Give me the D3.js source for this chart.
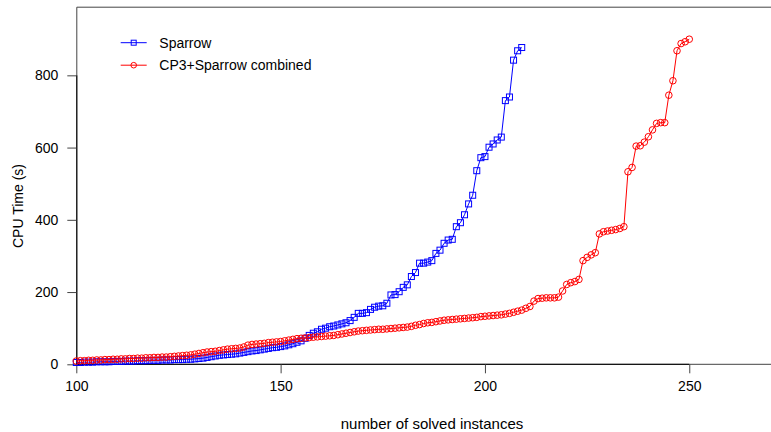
<!DOCTYPE html>
<html>
<head>
<meta charset="utf-8">
<script src="https://cdn.jsdelivr.net/npm/d3@7"></script>
<style>
  body { margin: 0; background: #fff; }
  text { font-family: "Liberation Sans", Arial, sans-serif; font-size: 14px; fill: #000; }
</style>
</head>
<body>
<div class="chart-container"></div>
<script>
// instances solved (x) for each series start at 100
const sparrowStart = 100
const combinedStart = 100

// CPU time (s) per solved instance
const sparrowTimes = [
  5, 5, 6, 6, 6, 7, 7, 7, 7, 8,
  8, 8, 9, 9, 9, 10, 10, 10, 11, 11,
  11, 12, 12, 12, 13, 13, 13, 14, 14, 15,
  16, 17, 19, 21, 23, 25, 26, 27, 28, 29,
  31, 33, 35, 37, 38, 40, 42, 44, 46, 47,
  49, 51, 54, 57, 61, 65, 72, 80, 86, 90,
  97, 100, 104, 106, 109, 112, 115, 121, 130, 141,
  141, 143, 152, 158, 161, 162, 169, 192, 193, 201,
  213, 220, 243, 254, 280, 280, 283, 287, 307, 316,
  335, 344, 346, 381, 392, 414, 444, 468, 536, 572,
  575, 601, 610, 621, 629, 730, 740, 842, 868, 877
]

const combinedTimes = [
  9, 10, 10, 11, 11, 12, 12, 13, 13, 14,
  14, 15, 15, 16, 16, 17, 17, 18, 18, 19,
  19, 20, 20, 21, 22, 23, 24, 25, 26, 28,
  30, 32, 34, 35, 36, 38, 40, 42, 43, 44,
  45, 48, 53, 55, 56, 57, 58, 60, 61, 62,
  63, 65, 67, 69, 71, 72, 73, 74, 75, 76,
  77, 78, 79, 80, 82, 84, 86, 88, 90, 92,
  93, 94, 95, 96, 97, 97, 98, 99, 100, 101,
  102, 103, 105, 108, 110, 113, 115, 116, 118, 120,
  122, 123, 124, 125, 126, 127, 128, 129, 130, 132,
  133, 134, 135, 136, 137, 139, 141, 144, 147, 150,
  155, 160, 175, 182, 183, 184, 184, 184, 186, 203,
  221, 226, 229, 235, 287, 296, 303, 309, 361, 367,
  369, 371, 373, 376, 381, 533, 545, 604, 605, 615,
  630, 649, 667, 669, 669, 745, 785, 868, 888, 893,
  900
]

const xTicks = [100, 150, 200, 250]
const yTicks = [0, 200, 400, 600, 800]
const seriesNames = ["Sparrow", "CP3+Sparrow combined"]

const width = 771
const height = 432
const margin = {left: 76.3, top: 6.7, right: 0, bottom: 67.7}
const chartWidth = width - margin.left - margin.right
const chartHeight = height - margin.top - margin.bottom

const sparrow = sparrowTimes.map((v, i) => ({n: sparrowStart + i, t: v}))
const combined = combinedTimes.map((v, i) => ({n: combinedStart + i, t: v}))

const svg = d3.select('.chart-container')
  .append('svg')
    .attr('width', width)
    .attr('height', height)
  .append('g')
    .attr('transform', `translate(${margin.left}, ${margin.top})`)

const xScale = d3.scaleLinear()
  .domain([100, 270])
  .range([0, chartWidth])

const yScale = d3.scaleLinear()
  .domain([0, 990])
  .range([chartHeight, 0])

// frame (right side falls outside the picture)
svg.append('path')
  .attr('d', `M${chartWidth + 5},0.5H0.5V${chartHeight}H${chartWidth + 5}`)
  .attr('fill', 'none')
  .attr('stroke', '#444')

const xAxis = svg.append('g')
  .attr('transform', `translate(0, ${chartHeight})`)
  .call(d3.axisBottom(xScale).tickValues(xTicks).tickSize(9).tickSizeOuter(0).tickPadding(8))
xAxis.select('.domain').attr('d', `M${xScale(100)},0H${xScale(250)}`).attr('stroke', '#000')
xAxis.selectAll('.tick line').attr('stroke', '#444')
xAxis.selectAll('text').attr('font-size', 14).attr('font-family', null)

const yAxis = svg.append('g')
  .call(d3.axisLeft(yScale).tickValues(yTicks).tickSize(9).tickSizeOuter(0).tickPadding(9))
yAxis.select('.domain').attr('d', `M0.5,${yScale(0)}V${yScale(800)}`).attr('stroke', '#000')
yAxis.selectAll('.tick line').attr('stroke', '#444')
yAxis.selectAll('text').attr('font-size', 14).attr('font-family', null)

svg.append('text')
  .attr('x', 432 - margin.left)
  .attr('y', 429 - margin.top)
  .attr('text-anchor', 'middle')
  .style('font-size', '15px')
  .text('number of solved instances')

svg.append('text')
  .attr('transform', `translate(${23 - margin.left}, ${206 - margin.top}) rotate(-90)`)
  .attr('text-anchor', 'middle')
  .text('CPU Time (s)')

const line = d3.line()
  .x(d => xScale(d.n))
  .y(d => yScale(d.t))

// Sparrow: blue squares
svg.append('path')
  .datum(sparrow)
  .attr('d', line)
  .attr('fill', 'none')
  .attr('stroke', '#0000ff')
  .attr('stroke-width', 1)

svg.selectAll('.sq').data(sparrow)
  .enter().append('rect')
  .attr('class', 'sq')
  .attr('x', d => xScale(d.n) - 3)
  .attr('y', d => yScale(d.t) - 3)
  .attr('width', 6)
  .attr('height', 6)
  .attr('fill', 'none')
  .attr('stroke', '#0000ff')

// combined: red circles
svg.append('path')
  .datum(combined)
  .attr('d', line)
  .attr('fill', 'none')
  .attr('stroke', '#ff0000')
  .attr('stroke-width', 1)

svg.selectAll('.ci').data(combined)
  .enter().append('circle')
  .attr('class', 'ci')
  .attr('cx', d => xScale(d.n))
  .attr('cy', d => yScale(d.t))
  .attr('r', 3.3)
  .attr('fill', 'none')
  .attr('stroke', '#ff0000')

// legend
const legend = svg.append('g')
  .attr('transform', `translate(${120.7 - margin.left}, ${42.7 - margin.top})`)

seriesNames.forEach((name, i) => {
  const row = legend.append('g').attr('transform', `translate(0, ${i * 22.5})`)
  const color = i === 0 ? '#0000ff' : '#ff0000'
  row.append('line')
    .attr('x1', 0).attr('x2', 26)
    .attr('stroke', color)
  if (i === 0) {
    row.append('rect')
      .attr('x', 10.5).attr('y', -2.5).attr('width', 5).attr('height', 5)
      .attr('fill', 'none').attr('stroke', color)
  } else {
    row.append('circle')
      .attr('cx', 13).attr('r', 2.8)
      .attr('fill', 'none').attr('stroke', color)
  }
  row.append('text')
    .attr('x', 38.6)
    .attr('y', 4.8)
    .text(name)
})
</script>
</body>
</html>
